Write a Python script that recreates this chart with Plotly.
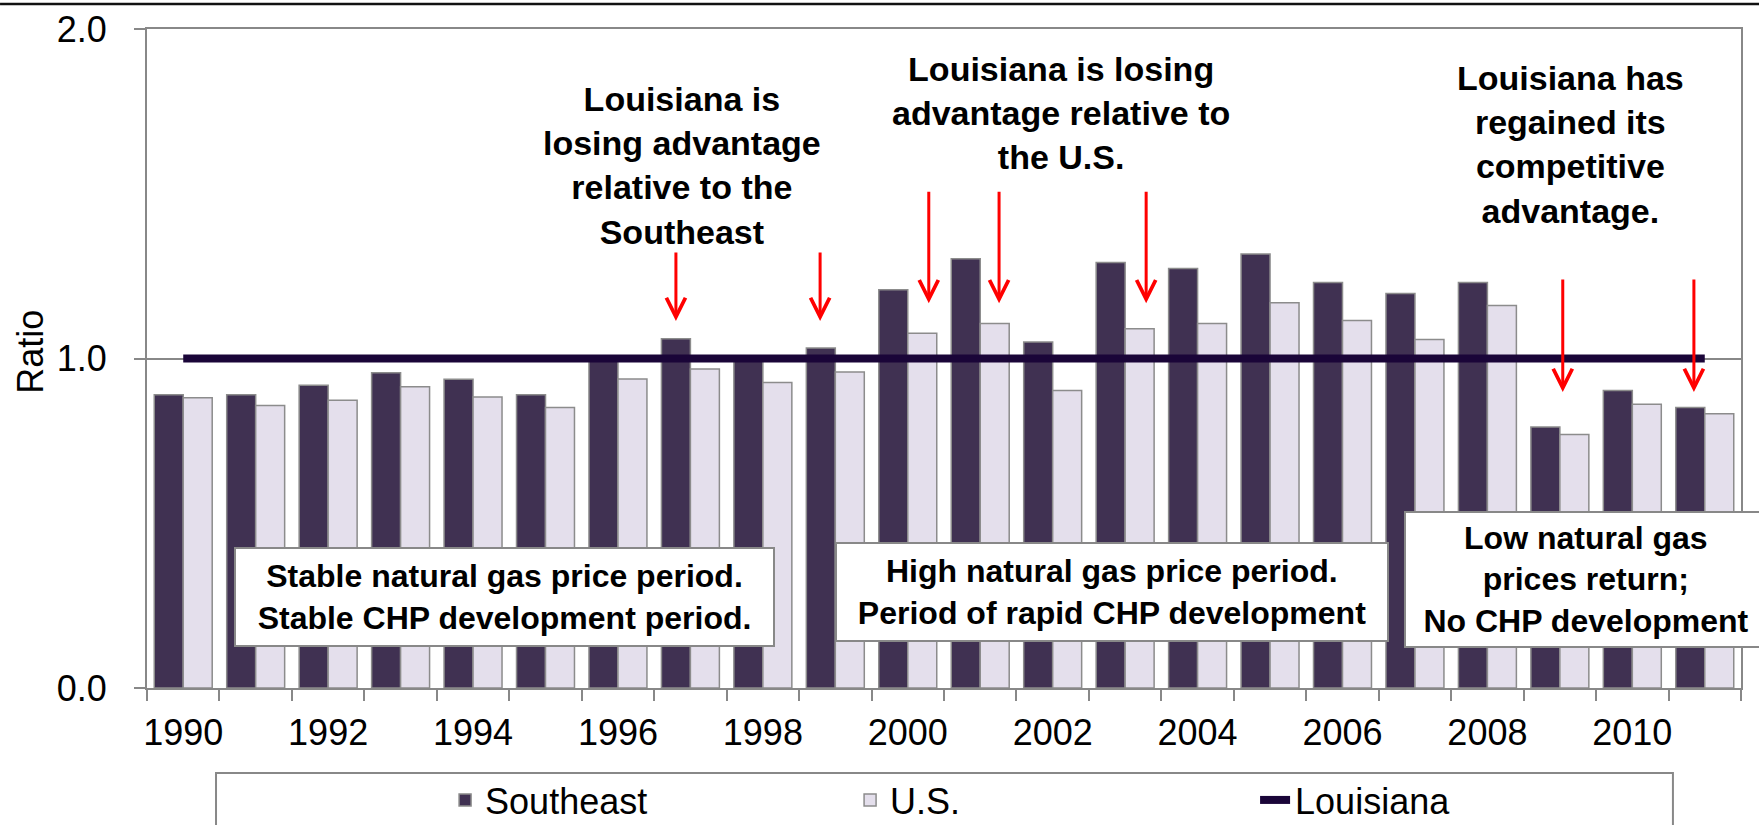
import plotly.graph_objects as go

# ---- data ----
years = list(range(1990, 2012))
southeast = [0.890, 0.890, 0.919, 0.957, 0.937, 0.890, 0.995, 1.060, 1.000, 1.032,
             1.209, 1.303, 1.050, 1.291, 1.273, 1.317, 1.231, 1.197, 1.231, 0.792,
             0.903, 0.851]
us = [0.881, 0.857, 0.873, 0.914, 0.883, 0.851, 0.938, 0.968, 0.927, 0.959,
      1.077, 1.106, 0.903, 1.090, 1.106, 1.169, 1.115, 1.058, 1.161, 0.769,
      0.861, 0.832]
louisiana = [1.0] * len(years)

tick_years = [1990, 1992, 1994, 1996, 1998, 2000, 2002, 2004, 2006, 2008, 2010]
tick_labels = [str(y) for y in tick_years]
y_ticks = [0, 1, 2]
y_labels = ["0.0", "1.0", "2.0"]

FONT = "Liberation Sans, Arial, sans-serif"
SE_COLOR = "#403152"
US_COLOR = "#e4dfec"
LA_COLOR = "#1a0538"
EDGE = "#8c8c8c"
AXIS = "#888888"

fig = go.Figure()
fig.add_trace(go.Bar(x=years, y=southeast, name="Southeast",
                     marker=dict(color=SE_COLOR, line=dict(color=EDGE, width=1.5))))
fig.add_trace(go.Bar(x=years, y=us, name="U.S.",
                     marker=dict(color=US_COLOR, line=dict(color=EDGE, width=1.5))))
fig.add_trace(go.Scatter(x=years, y=louisiana, name="Louisiana", mode="lines",
                         line=dict(color=LA_COLOR, width=8)))

# ---- text annotations ----
top_notes = [
    ("Louisiana is<br>losing advantage<br>relative to the<br>Southeast", 1996.88, 1.587),
    ("Louisiana is losing<br>advantage relative to<br>the U.S.", 2002.12, 1.745),
    ("Louisiana has<br>regained its<br>competitive<br>advantage.", 2009.14, 1.649),
]
for txt, x, y in top_notes:
    fig.add_annotation(x=x, y=y, xref="x", yref="y", text="<b>" + txt + "</b>",
                       showarrow=False, align="center",
                       font=dict(family=FONT, size=34, color="black"))

box_notes = [
    ("Stable natural gas price period.<br>Stable CHP development period.", 1994.43, 0.276, 525, 84),
    ("High natural gas price period.<br>Period of rapid CHP development", 2002.82, 0.290, 538, 84),
    ("Low natural gas<br>prices return;<br>No CHP development", 2009.36, 0.329, 348, 121),
]
for txt, x, y, w, h in box_notes:
    fig.add_annotation(x=x, y=y, xref="x", yref="y", text="<b>" + txt + "</b>",
                       showarrow=False, align="center", valign="middle",
                       width=w, height=h,
                       bgcolor="white", bordercolor=AXIS, borderwidth=2, borderpad=6,
                       font=dict(family=FONT, size=32, color="black"))

# ---- y-axis title ----
fig.add_annotation(x=-0.0728, y=0.51, xref="paper", yref="paper", text="Ratio",
                   textangle=-90, showarrow=False, xanchor="center", yanchor="middle",
                   font=dict(family=FONT, size=36, color="black"))

# ---- red arrows (tip x, tip y, tail y) ----
arrows = [
    (1996.80, 1.114, 1.326),
    (1998.79, 1.114, 1.326),
    (2000.29, 1.168, 1.511),
    (2001.26, 1.168, 1.511),
    (2003.29, 1.168, 1.511),
    (2009.04, 0.898, 1.244),
    (2010.85, 0.898, 1.244),
]
for x, ytip, ytail in arrows:
    fig.add_annotation(x=x, y=ytip, ax=x, ay=ytail, xref="x", yref="y",
                       axref="x", ayref="y", text="", showarrow=True,
                       arrowhead=5, arrowsize=1.25, arrowwidth=3, arrowcolor="#ff0000")

# ---- decorative lines: top rule and legend frame ----
fig.add_shape(type="line", xref="paper", yref="paper", x0=-0.0922, x1=1.0113,
              y0=1.038, y1=1.038, line=dict(color="#111111", width=2.5))
fig.add_shape(type="rect", xref="paper", yref="paper", x0=0.0433, x1=0.9573,
              y0=-0.129, y1=-0.25, line=dict(color=AXIS, width=2), fillcolor="rgba(0,0,0,0)")

fig.update_layout(
    width=1759, height=825,
    margin=dict(l=147, r=18, t=29, b=137, autoexpand=False),
    paper_bgcolor="white", plot_bgcolor="white",
    barmode="group", bargap=0.2, bargroupgap=0,
    font=dict(family=FONT, size=36, color="black"),
    showlegend=True,
    legend=dict(orientation="h", x=0.187, xanchor="left", y=-0.170, yanchor="middle",
                entrywidth=360, font=dict(family=FONT, size=36, color="black"),
                bgcolor="rgba(0,0,0,0)", traceorder="normal"),
    xaxis=dict(range=[1989.5, 2011.5], tickmode="array", tickvals=tick_years,
               ticktext=tick_labels, ticks="", showgrid=False, zeroline=False,
               showline=True, linecolor=AXIS, linewidth=2, mirror=True,
               ticklabelstandoff=12,
               tickfont=dict(family=FONT, size=36, color="black"),
               minor=dict(tickmode="linear", tick0=1989.5, dtick=1, ticks="outside",
                          ticklen=11, tickcolor=AXIS, tickwidth=2, showgrid=False)),
    yaxis=dict(range=[0, 2], tickmode="array", tickvals=y_ticks, ticktext=y_labels,
               ticks="outside", ticklen=11, tickcolor=AXIS, tickwidth=2,
               showgrid=True, gridcolor=AXIS, gridwidth=2, zeroline=False,
               showline=True, linecolor=AXIS, linewidth=2, mirror=True,
               ticklabelstandoff=20,
               tickfont=dict(family=FONT, size=36, color="black")),
)

fig.write_html("out.html", config={"displayModeBar": False},
               post_script="document.body.style.margin='0';document.body.style.overflow='hidden';")
